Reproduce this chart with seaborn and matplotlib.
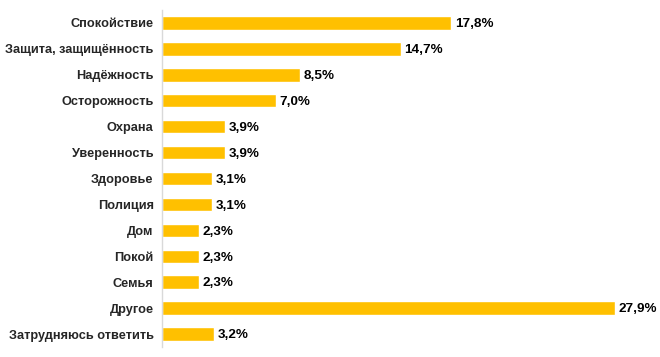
import matplotlib
matplotlib.use("Agg")
import matplotlib.pyplot as plt
import seaborn as sns
import pandas as pd

categories = ["Спокойствие", "Защита, защищённость", "Надёжность", "Осторожность",
              "Охрана", "Уверенность", "Здоровье", "Полиция", "Дом", "Покой",
              "Семья", "Другое", "Затрудняюсь ответить"]
values = [17.8, 14.7, 8.5, 7.0, 3.9, 3.9, 3.1, 3.1, 2.3, 2.3, 2.3, 27.9, 3.2]

df = pd.DataFrame({"category": categories, "value": values})

sns.set_style("white")
plt.rcParams["font.family"] = ["Liberation Sans", "DejaVu Sans"]

fig = plt.figure(figsize=(6.6, 3.57), dpi=100)
ax = fig.add_axes([162 / 660, 1 - 347 / 357, (617 - 162) / 660, 337 / 357])

sns.barplot(data=df, x="value", y="category", color="#FFC000", width=0.52,
            saturation=1, ax=ax)

for i, v in enumerate(values):
    ax.text(v + 0.22, i + 0.05, f"{v:.1f}%".replace(".", ","), va="center", ha="left",
            fontsize=9.7, fontweight="bold", color="black")

ax.set_xlim(0, 28)
ax.set_xlabel("")
ax.set_ylabel("")
ax.set_xticks([])
for s in ["top", "right", "bottom"]:
    ax.spines[s].set_visible(False)
ax.spines["left"].set_color("#D9D9D9")
ax.spines["left"].set_linewidth(1)
ax.tick_params(axis="y", length=0, pad=6)
for lbl in ax.get_yticklabels():
    lbl.set_fontsize(9.2)
    lbl.set_fontweight("bold")

fig.savefig("out.png", dpi=100)
